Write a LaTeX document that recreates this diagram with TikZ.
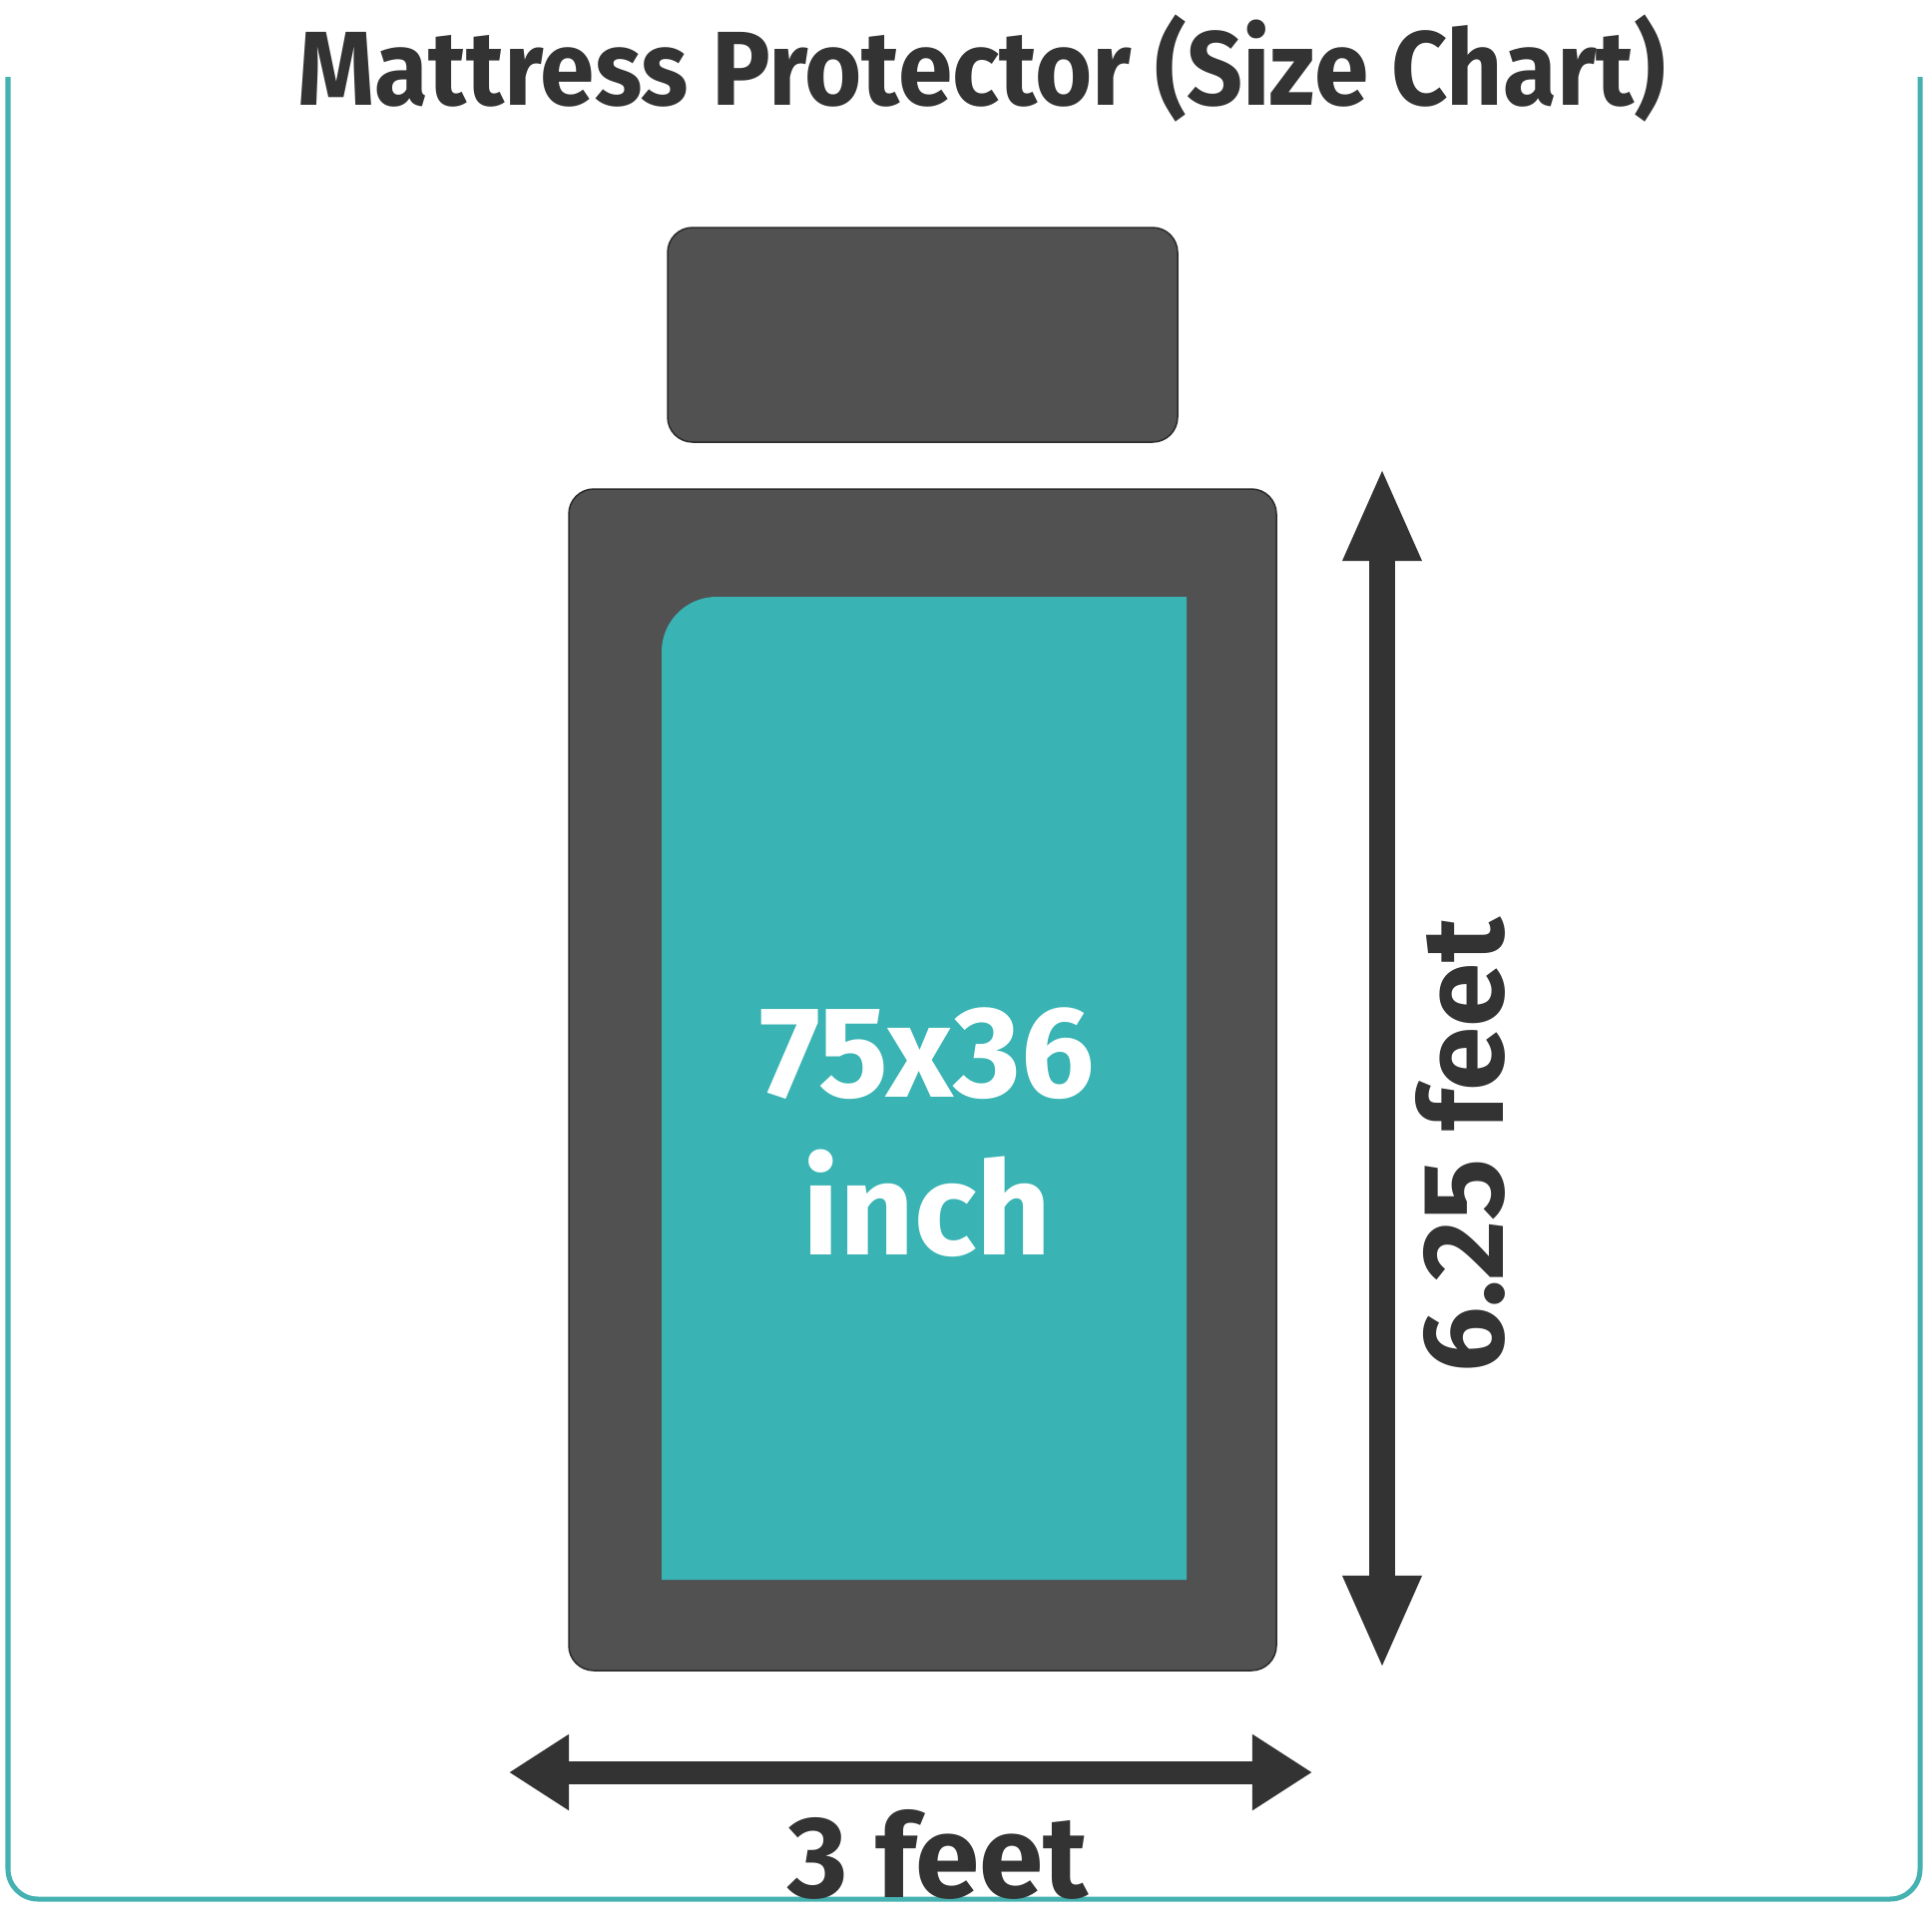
\documentclass[tikz,border=0pt]{standalone}
\usepackage{fontspec}
\setmainfont{Fira Sans}
\usetikzlibrary{arrows.meta,positioning}

\definecolor{bedgray}{HTML}{515151}
\definecolor{edgegray}{HTML}{2B2B2B}
\definecolor{inkgray}{HTML}{333333}
\definecolor{sheetteal}{HTML}{39B3B3}
\definecolor{frameteal}{HTML}{45B1B1}

\tikzset{
  bedpart/.style={fill=bedgray, draw=edgegray, line width=0.015cm,
    rounded corners=0.25cm},
  dimarrow/.style={draw=inkgray},
  dimtext/.style={text=inkgray, font=\fontsize{33}{36}\selectfont\bfseries,
    inner sep=0pt},
}

\begin{document}
\begin{tikzpicture}[x=0.01cm, y=0.01cm]
    \useasboundingbox (0, 0) rectangle (1936, -1936);
    \fill [white] (0, 0) rectangle (1936, -1936);

    % outer frame, open at the top
    \draw [frameteal, line width=0.05cm, rounded corners=0.3cm]
      (8, -77) -- (8, -1903) -- (1924, -1903) -- (1924, -77);

    \node (title) [anchor=base, inner sep=0pt, text=inkgray, xscale=0.93,
      font=\fontsize{30}{36}\selectfont\bfseries] at (984, -105)
      {Mattress Protector (Size Chart)};

    % pillow and mattress
    \draw [bedpart] (669, -228) rectangle (1180, -443);
    \draw [bedpart] (570, -490) rectangle (1279, -1674);
    \fill [sheetteal]
      (663, -1583) [rounded corners=0.55cm] -- (663, -598)
      [sharp corners] -- (1189, -598) -- (1189, -1583) -- cycle;

    \node (size) [anchor=base, inner sep=0pt, text=white,
      font=\fontsize{37}{45}\selectfont\bfseries] at (929, -1099)
      {75x36};
    \node (unit) [anchor=base, inner sep=0pt, text=white,
      font=\fontsize{37}{45}\selectfont\bfseries] at (929, -1257)
      {inch};

    % length arrow
    \coordinate (lenTop) at (1385, -468);
    \coordinate (lenBot) at (1385, -1673);
    \draw [dimarrow, line width=0.26cm,
      {Triangle[length=0.94cm, width=0.72cm]}-{Triangle[length=0.94cm, width=0.72cm]}]
      (lenTop) -- (lenBot);
    \node (lenText) [dimtext, rotate=90, anchor=base] at (1506, -1148)
      {6.25 feet};

    % width arrow
    \coordinate (widLeft) at (510, -1776);
    \coordinate (widRight) at (1315, -1776);
    \draw [dimarrow, line width=0.23cm,
      {Triangle[length=0.6cm, width=0.72cm]}-{Triangle[length=0.6cm, width=0.72cm]}]
      (widLeft) -- (widRight);
    \node (widText) [dimtext, anchor=base] at (940, -1901) {3 feet};
  \end{tikzpicture}
\end{document}
